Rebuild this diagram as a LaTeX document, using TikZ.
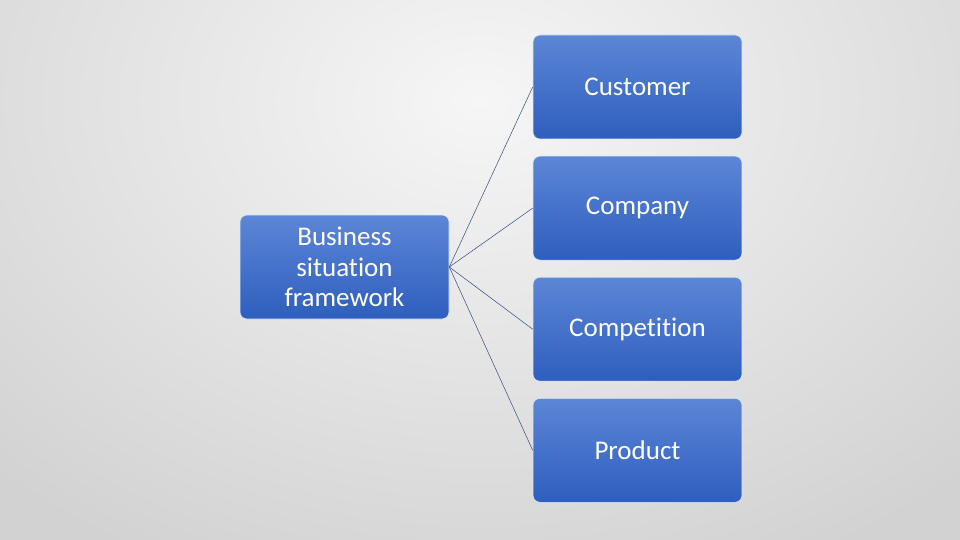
\documentclass[tikz,border=0pt]{standalone}
\usepackage{fontspec}
\setmainfont{Carlito}[Ligatures=NoCommon]
\usetikzlibrary{positioning}
\definecolor{boxtop}{RGB}{92,134,214}
\definecolor{boxbot}{RGB}{46,94,190}
\definecolor{linkcol}{RGB}{55,75,125}
\definecolor{bgin}{RGB}{246,246,246}
\definecolor{bgout}{RGB}{210,210,210}
\tikzset{
  bloc/.style={rectangle, rounded corners=7pt, top color=boxtop, bottom color=boxbot,
    draw=white!80!boxtop, line width=0.6pt, minimum width=209pt, minimum height=104pt,
    inner sep=0pt, text=white, align=center, font=\fontsize{27}{30.5}\selectfont},
  lien/.style={draw=linkcol, line width=0.5pt}
}
\begin{document}
\begin{tikzpicture}[x=1pt,y=-1pt]
    \useasboundingbox (0,0) rectangle (960,540);
    % Fond gris
    \begin{scope}
        \clip (0,0) rectangle (960,540);
        \shade[inner color=bgin, outer color=bgout] (-220,-420) rectangle (1180,620);
    \end{scope}
    % Cadre principal
    \node[bloc] (cadre) at (344.5,267) {Business\\situation\\framework};
    % Les quatre blocs de droite
    \node[bloc] (client) at (637.5,87) {Customer};
    \node[bloc, below=16.5pt of client] (societe) {Company};
    \node[bloc, below=16.5pt of societe] (concurrence) {Competition};
    \node[bloc, below=16.5pt of concurrence] (produit) {Product};
    % Liens
    \foreach \cible in {client,societe,concurrence,produit}
        \draw[lien] (cadre.east) -- (\cible.west);
\end{tikzpicture}
\end{document}
